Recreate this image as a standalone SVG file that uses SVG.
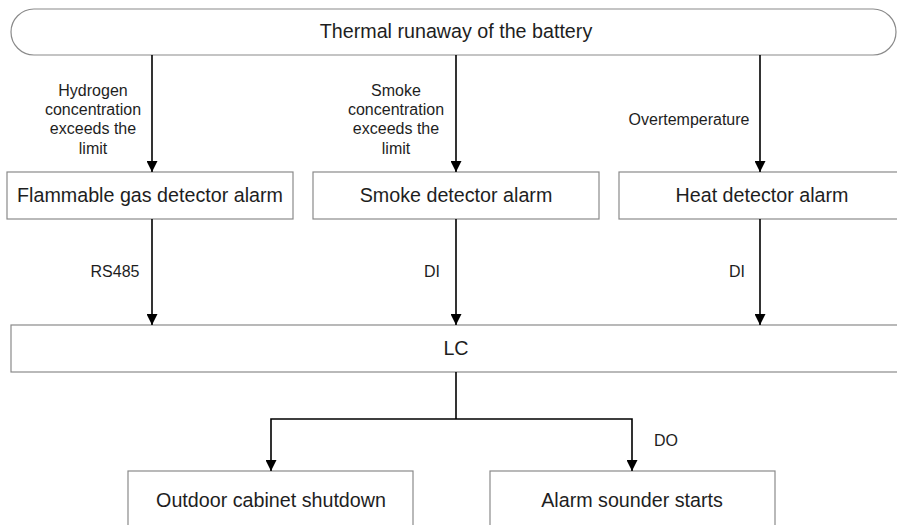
<svg xmlns="http://www.w3.org/2000/svg" width="897" height="525" viewBox="0 0 897 525">
  <style>
    .box { fill: #ffffff; stroke: #8a8a8a; stroke-width: 1.2; }
    .main { font-family: "Liberation Sans", Arial, sans-serif; font-size: 19.7px; fill: #1e1e1e; text-anchor: middle; }
    .lbl { font-family: "Liberation Sans", Arial, sans-serif; font-size: 16px; fill: #1e1e1e; text-anchor: middle; }
    .wire { fill: none; stroke: #000000; stroke-width: 1.6; }
  </style>
  <defs>
    <marker id="arrow" markerWidth="12" markerHeight="11" refX="11" refY="5.5" orient="auto" markerUnits="userSpaceOnUse">
      <path d="M0,0 L11,5.5 L0,11 Z" fill="#000000"/>
    </marker>
  </defs>

  <rect width="897" height="525" fill="#ffffff"/>

  <g id="node-thermal-runaway">
    <rect class="box" x="11" y="9" width="885" height="46" rx="23" ry="23"/>
    <text class="main" x="456" y="38">Thermal runaway of the battery</text>
  </g>

  <g id="node-flammable-gas">
    <rect class="box" x="7" y="172" width="286" height="47"/>
    <text class="main" x="150" y="202">Flammable gas detector alarm</text>
  </g>

  <g id="node-smoke">
    <rect class="box" x="313" y="172" width="286" height="47"/>
    <text class="main" x="456" y="202">Smoke detector alarm</text>
  </g>

  <g id="node-heat">
    <rect class="box" x="619" y="172" width="286" height="47"/>
    <text class="main" x="762" y="202">Heat detector alarm</text>
  </g>

  <g id="node-lc">
    <rect class="box" x="11" y="325" width="895" height="47"/>
    <text class="main" x="456" y="355">LC</text>
  </g>

  <g id="node-outdoor-shutdown">
    <rect class="box" x="128" y="471" width="285" height="60"/>
    <text class="main" x="271" y="507">Outdoor cabinet shutdown</text>
  </g>

  <g id="node-alarm-sounder">
    <rect class="box" x="490" y="471" width="285" height="60"/>
    <text class="main" x="632" y="507">Alarm sounder starts</text>
  </g>

  <g id="connectors">
    <line class="wire" x1="152" y1="55" x2="152" y2="172" marker-end="url(#arrow)"/>
    <line class="wire" x1="456" y1="55" x2="456" y2="172" marker-end="url(#arrow)"/>
    <line class="wire" x1="760" y1="55" x2="760" y2="172" marker-end="url(#arrow)"/>

    <line class="wire" x1="152" y1="219" x2="152" y2="325" marker-end="url(#arrow)"/>
    <line class="wire" x1="456" y1="219" x2="456" y2="325" marker-end="url(#arrow)"/>
    <line class="wire" x1="760" y1="219" x2="760" y2="325" marker-end="url(#arrow)"/>

    <line class="wire" x1="456" y1="372" x2="456" y2="419"/>
    <polyline class="wire" points="456,419 271,419 271,471" marker-end="url(#arrow)"/>
    <polyline class="wire" points="456,419 632,419 632,471" marker-end="url(#arrow)"/>

    <text class="lbl" x="93" y="96">Hydrogen</text>
    <text class="lbl" x="93" y="115">concentration</text>
    <text class="lbl" x="93" y="134">exceeds the</text>
    <text class="lbl" x="93" y="154">limit</text>

    <text class="lbl" x="396" y="96">Smoke</text>
    <text class="lbl" x="396" y="115">concentration</text>
    <text class="lbl" x="396" y="134">exceeds the</text>
    <text class="lbl" x="396" y="154">limit</text>

    <text class="lbl" x="689" y="125">Overtemperature</text>

    <text class="lbl" x="115" y="277">RS485</text>
    <text class="lbl" x="432" y="277">DI</text>
    <text class="lbl" x="737" y="277">DI</text>

    <text class="lbl" x="666" y="446">DO</text>
  </g>
</svg>
